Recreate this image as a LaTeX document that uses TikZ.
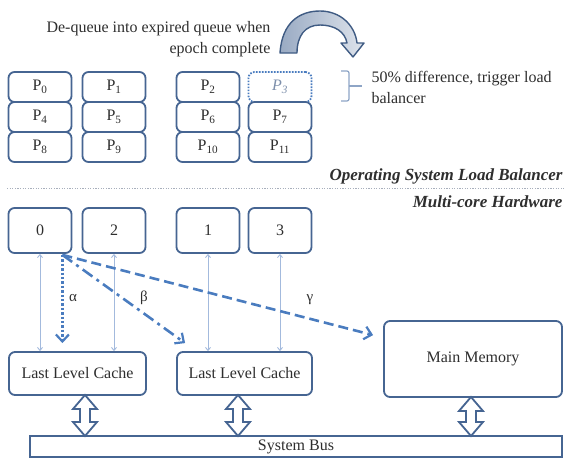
\documentclass[tikz,border=0pt]{standalone}
\usepackage{fontspec}
\setmainfont{Liberation Serif}
\usetikzlibrary{arrows.meta,calc}
\definecolor{bord}{HTML}{466592}
\definecolor{txt}{HTML}{2E2E2E}
\definecolor{arr}{HTML}{4A7CBF}
\definecolor{thinc}{HTML}{A3BADD}
\definecolor{pgray}{HTML}{7D8FAB}
\definecolor{brc}{HTML}{8EA5C6}
\definecolor{sep}{HTML}{A8AFBC}
\newcommand\hollowdbl[3]{%
  \draw[hollow] (#1,#2) -- ++(12,14) -- ++(-7,0) -- (#1+5,#3-14) -- ++(7,0) -- (#1,#3)
    -- ++(-12,-14) -- ++(7,0) -- (#1-5,#2+14) -- ++(-7,0) -- cycle;}
\begin{document}
\begin{tikzpicture}[x=1pt,y=-1pt,
  every node/.style={font=\fontsize{16}{21}\selectfont, text=txt},
  box/.style={draw=bord, line width=1.8pt, rounded corners=6pt, fill=white, inner sep=0pt},
  pbox/.style={box, minimum width=63pt, minimum height=30pt},
  corebox/.style={box, minimum width=63pt, minimum height=45pt},
  hollow/.style={draw=bord, line width=1.8pt, fill=white, line join=miter},
  thinarr/.style={draw=thinc, line width=0.9pt, {Straight Barb[length=3pt,width=5pt]}-{Straight Barb[length=3pt,width=5pt]}},
  bigtip/.style={-{Straight Barb[length=7pt,width=13pt,line width=2.2pt]}},
  flow/.style={draw=arr, line width=2.6pt, bigtip},
  slabel/.style={font=\fontsize{17}{20}\selectfont\bfseries\itshape, anchor=east},
  glabel/.style={font=\fontsize{15}{18}\selectfont}
]
\useasboundingbox (0,0) rectangle (566,458);

% curved arrow
\path[draw=bord!90!black, line width=1.4pt, left color=bord!55, right color=bord!18, line join=round]
  (280,53) .. controls (282,22) and (300,11) .. (320,11)
  .. controls (340,11) and (355,25) .. (357,43)
  -- (364,43) -- (353,57) -- (341,43) -- (347,43)
  .. controls (345,32) and (335,25) .. (320,25)
  .. controls (305,25) and (297,36) .. (297,53) -- cycle;
\node[align=right, anchor=east] (deq) at (274,39.5) {De-queue into expired queue when\\epoch complete};

% process queues
\node[pbox] (p0) at (40,87) {P\textsubscript{0}};
\node[pbox] (p4) at (40,117) {P\textsubscript{4}};
\node[pbox] (p8) at (40,147) {P\textsubscript{8}};
\node[pbox] (p1) at (114,87) {P\textsubscript{1}};
\node[pbox] (p5) at (114,117) {P\textsubscript{5}};
\node[pbox] (p9) at (114,147) {P\textsubscript{9}};
\node[pbox] (p2) at (208,87) {P\textsubscript{2}};
\node[pbox] (p6) at (208,117) {P\textsubscript{6}};
\node[pbox] (p10) at (208,147) {P\textsubscript{10}};
\node[pbox, draw=arr, dash pattern=on 1.6pt off 1.4pt, text=pgray] (p3) at (280,87) {\itshape P\textsubscript{3}};
\node[pbox] (p7) at (280,117) {P\textsubscript{7}};
\node[pbox] (p11) at (280,147) {P\textsubscript{11}};

% brace and note
\draw[brc, line width=1.2pt, rounded corners=2pt] (341,71) -- (349,71) -- (349,101) -- (341,101);
\draw[brc, line width=1.2pt] (349,86) -- (362,86);
\node[align=left, anchor=west] (note) at (368,87.5) {50\% difference, trigger load\\balancer};

% layer separator
\node[slabel] (osl) at (566,176) {Operating System Load Balancer};
\draw[sep, line width=0.8pt, dash pattern=on 1.2pt off 1.4pt] (7,188.5) -- (564,188.5);
\node[slabel] (mch) at (566,202) {Multi-core Hardware};

% cores
\node[corebox] (c0) at (40,230.5) {0};
\node[corebox] (c2) at (114,230.5) {2};
\node[corebox] (c1) at (208,230.5) {1};
\node[corebox] (c3) at (280,230.5) {3};

% caches, memory, bus
\node[box, minimum width=137pt, minimum height=43pt] (llc1) at (77.5,373.5) {Last Level Cache};
\node[box, minimum width=135pt, minimum height=43pt] (llc2) at (244.5,373.5) {Last Level Cache};
\node[box, minimum width=178pt, minimum height=76pt] (mm) at (473,359) {Main Memory};
\node[draw=bord, line width=2pt, fill=white, minimum width=532pt, minimum height=21pt, inner sep=0pt] (bus) at (296,446.5) {System Bus};

% thin links core <-> cache
\draw[thinarr] (c0.south) -- (c0.south |- llc1.north);
\draw[thinarr] (c2.south) -- (c2.south |- llc1.north);
\draw[thinarr] (c1.south) -- (c1.south |- llc2.north);
\draw[thinarr] (c3.south) -- (c3.south |- llc2.north);

% access paths
\coordinate (src) at ($(c0.south east)+(-10,1)$);
\coordinate (dA) at ($(llc1.north)+(-16,-8)$);
\coordinate (dB) at ($(llc2.north west)+(9,-8)$);
\coordinate (dC) at ($(mm.north west)+(-10,15)$);
\draw[flow, dash pattern=on 2.4pt off 2pt] (src) -- (src |- dA);
\draw[flow, dash pattern=on 12pt off 5pt on 3pt off 5pt] (src) -- (dB);
\draw[flow, dash pattern=on 10pt off 5pt] (src) -- (dC);
\node[glabel] (la) at (73,298) {α};
\node[glabel] (lb) at (144,298) {β};
\node[glabel] (lg) at (310,300) {γ};

% hollow double arrows
\hollowdbl{85}{395}{436}
\hollowdbl{238}{395}{436}
\hollowdbl{471}{397}{436}
\end{tikzpicture}
\end{document}
